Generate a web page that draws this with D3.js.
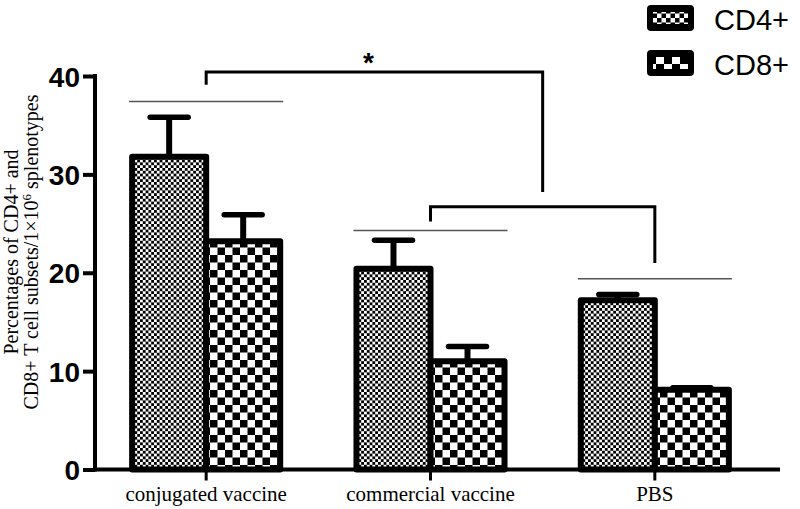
<!DOCTYPE html>
<html>
<head>
<meta charset="utf-8">
<script src="https://cdn.jsdelivr.net/npm/d3@7/dist/d3.min.js"></script>
<style>
  html, body { margin: 0; padding: 0; background: #fff; }
  svg { display: block; }
</style>
</head>
<body>
<svg id="chart" width="800" height="509"></svg>
<script>
// ---- data ----
const categories = ["conjugated vaccine", "commercial vaccine", "PBS"];
const seriesNames = ["CD4+", "CD8+"];
const cd4Values = [31.8, 20.4, 17.2];
const cd4Errors = [4.0, 2.9, 0.6];
const cd8Values = [23.2, 11.0, 8.1];
const cd8Errors = [2.7, 1.5, 0.2];
const yTicks = [0, 10, 20, 30, 40];
// thin reference lines above each group (value units)
const groupLines = [37.4, 24.3, 19.4];
// significance brackets (value units)
const bracketTop = [40.4, 26.7];
const bracketLeftEnd = [39.1, 25.2];
const bracketRightEnd = [28.2, 21.0];
const starLabel = "*";

const svg = d3.select("#chart");

const y = d3.scaleLinear().domain([0, 40]).range([469.5, 76]);
const x0 = d3.scaleBand().domain(categories).range([94, 767]).paddingInner(0.34).paddingOuter(0.17);
const bw = x0.bandwidth();
const x1 = d3.scaleBand().domain(seriesNames).range([0, bw]);
const center = c => x0(c) + bw / 2;

// patterns
const defs = svg.append("defs");
function checker(id, s) {
  const p = defs.append("pattern").attr("id", id).attr("patternUnits", "userSpaceOnUse")
    .attr("width", 2 * s).attr("height", 2 * s);
  p.append("rect").attr("width", 2 * s).attr("height", 2 * s).attr("fill", "#fff");
  p.append("rect").attr("width", s).attr("height", s).attr("fill", "#000");
  p.append("rect").attr("x", s).attr("y", s).attr("width", s).attr("height", s).attr("fill", "#000");
}
checker("pCD4", 2.8);
checker("pCD8", 7.5);
checker("pCD4L", 4.5);
checker("pCD8L", 8);
const fills = { "CD4+": "url(#pCD4)", "CD8+": "url(#pCD8)" };
const legendFills = { "CD4+": "url(#pCD4L)", "CD8+": "url(#pCD8L)" };

const rows = categories.map((c, i) => ({
  cat: c,
  items: [
    { s: "CD4+", v: cd4Values[i], e: cd4Errors[i] },
    { s: "CD8+", v: cd8Values[i], e: cd8Errors[i] }
  ]
}));

// error bars
const eg = svg.append("g");
rows.forEach(r => {
  r.items.forEach(d => {
    const cx = x0(r.cat) + x1(d.s) + x1.bandwidth() / 2;
    eg.append("line").attr("x1", cx).attr("x2", cx).attr("y1", y(d.v)).attr("y2", y(d.v + d.e))
      .attr("stroke", "#000").attr("stroke-width", 6);
    eg.append("line").attr("x1", cx - 19).attr("x2", cx + 19).attr("y1", y(d.v + d.e)).attr("y2", y(d.v + d.e))
      .attr("stroke", "#000").attr("stroke-width", 5.5).attr("stroke-linecap", "round");
  });
});

// bars
const bg = svg.append("g");
rows.forEach(r => {
  bg.selectAll(null).data(r.items).enter().append("rect")
    .attr("x", d => x0(r.cat) + x1(d.s))
    .attr("y", d => y(d.v))
    .attr("width", x1.bandwidth())
    .attr("height", d => y(0) - y(d.v))
    .attr("fill", d => fills[d.s])
    .attr("stroke", "#000").attr("stroke-width", 6).attr("stroke-linejoin", "round");
});

// thin gray lines above groups
categories.forEach((c, i) => {
  svg.append("line").attr("x1", x0(c) - 3).attr("x2", x0(c) + bw + 3)
    .attr("y1", y(groupLines[i])).attr("y2", y(groupLines[i]))
    .attr("stroke", "#555").attr("stroke-width", 1.5);
});

// brackets
const bracketLeftX = [center(categories[0]), center(categories[1])];
const bracketRightX = [(center(categories[1]) + center(categories[2])) / 2, center(categories[2])];
bracketTop.forEach((t, i) => {
  const path = d3.path();
  path.moveTo(bracketLeftX[i], y(bracketLeftEnd[i]));
  path.lineTo(bracketLeftX[i], y(t));
  path.lineTo(bracketRightX[i], y(t));
  path.lineTo(bracketRightX[i], y(bracketRightEnd[i]));
  svg.append("path").attr("d", path.toString()).attr("fill", "none")
    .attr("stroke", "#000").attr("stroke-width", 3);
});
svg.append("text").attr("x", (bracketLeftX[0] + bracketRightX[0]) / 2 - 6).attr("y", y(bracketTop[0]) - 0.5)
  .attr("text-anchor", "middle").attr("font-family", "Liberation Sans, Arial, sans-serif")
  .attr("font-weight", "bold").attr("font-size", 28).text(starLabel);

// y axis
const yAxis = d3.axisLeft(y).tickValues(yTicks).tickSize(12).tickPadding(3).tickSizeOuter(0);
const yg = svg.append("g").attr("transform", "translate(95,0)").call(yAxis);
yg.select(".domain").remove();
yg.selectAll(".tick line").attr("stroke", "#000").attr("stroke-width", 4);
yg.selectAll(".tick text").attr("font-family", "Liberation Sans, Arial, sans-serif")
  .attr("font-weight", "bold").attr("font-size", 28).attr("fill", "#000").attr("dy", "0.36em");
svg.append("line").attr("x1", 95).attr("x2", 95).attr("y1", y(40) - 2).attr("y2", y(0) + 2)
  .attr("stroke", "#000").attr("stroke-width", 4);

// x axis
const xAxis = d3.axisBottom(x0).tickSize(11).tickPadding(6).tickSizeOuter(0);
const xg = svg.append("g").attr("transform", `translate(0,${y(0)})`).call(xAxis);
xg.select(".domain").remove();
xg.selectAll(".tick line").attr("stroke", "#000").attr("stroke-width", 3);
xg.selectAll(".tick text").attr("font-family", "Liberation Serif, Times New Roman, serif")
  .attr("font-size", 21).attr("fill", "#000");
svg.append("line").attr("x1", 93).attr("x2", 780).attr("y1", y(0)).attr("y2", y(0))
  .attr("stroke", "#000").attr("stroke-width", 4);

// y label
const yl = svg.append("text").attr("transform", "translate(0,252) rotate(-90)")
  .attr("text-anchor", "middle").attr("font-family", "Liberation Serif, Times New Roman, serif")
  .attr("font-size", 20).attr("fill", "#000");
yl.append("tspan").attr("x", 0).attr("y", 18).text("Percentages of CD4+ and");
yl.append("tspan").attr("x", 0).attr("y", 38).text("CD8+ T cell subsets/1×10");
yl.append("tspan").attr("font-size", 13).attr("dy", -7).text("6");
yl.append("tspan").attr("dy", 7).text(" splenotypes");

// legend
const lg = svg.append("g");
seriesNames.forEach((s, i) => {
  const ly = 5 + i * 45;
  lg.append("rect").attr("x", 647).attr("y", ly).attr("width", 47).attr("height", 26)
    .attr("rx", 4).attr("fill", "#000");
  lg.append("rect").attr("x", 653).attr("y", ly + 7).attr("width", 35).attr("height", 12)
    .attr("fill", legendFills[s]);
  lg.append("text").attr("x", 714).attr("y", ly + 25).attr("font-family", "Liberation Sans, Arial, sans-serif")
    .attr("font-size", 29).attr("fill", "#000").text(s);
});
</script>
</body>
</html>
